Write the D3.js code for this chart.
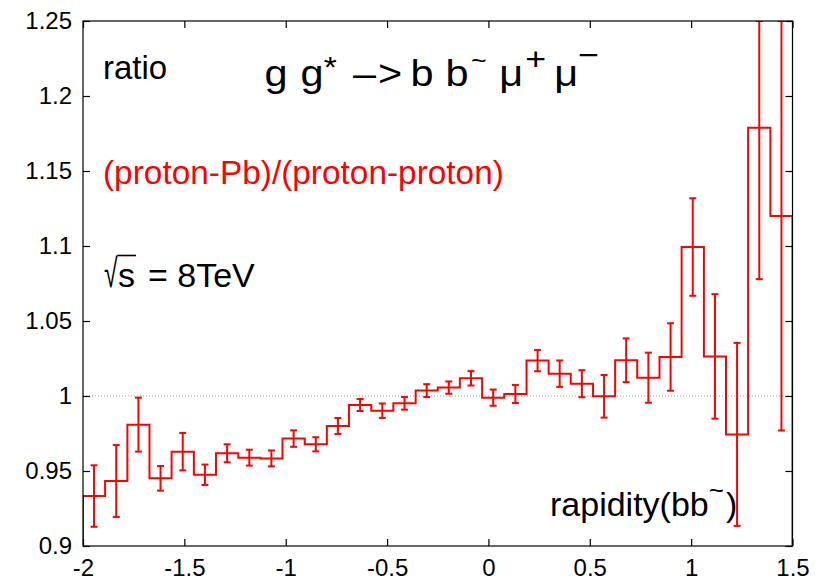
<!DOCTYPE html>
<html>
<head>
<meta charset="utf-8">
<script src="https://cdn.jsdelivr.net/npm/d3@7/dist/d3.min.js"></script>
<style>
  html, body { margin: 0; padding: 0; background: #fff; }
  svg { display: block; font-family: "Liberation Sans", Arial, Helvetica, sans-serif; }
</style>
</head>
<body>
<svg id="chart" width="834" height="581"></svg>
<script>
// Rapidity bin edges of the b b~ pair (32 bins over [-2, 1.5])
const binEdges = [-2, -1.891, -1.781, -1.672, -1.563, -1.453, -1.344, -1.234, -1.125,
  -1.016, -0.906, -0.797, -0.688, -0.578, -0.469, -0.359, -0.25, -0.141, -0.031,
  0.078, 0.188, 0.297, 0.406, 0.516, 0.625, 0.734, 0.844, 0.953, 1.063, 1.172,
  1.281, 1.391, 1.5];

// (proton-Pb)/(proton-proton) ratio per bin
const ratio = [0.9333, 0.9433, 0.9809, 0.9451, 0.9629, 0.9475, 0.9618, 0.9589,
  0.9584, 0.9716, 0.9678, 0.9800, 0.9940, 0.9902, 0.9951, 1.0036, 1.0056, 1.0118,
  0.9989, 1.0013, 1.0236, 1.0149, 1.0082, 0.9998, 1.0238, 1.0122, 1.0260, 1.0993,
  1.0264, 0.9744, 1.1789, 1.1200];

// statistical uncertainty per bin
const ratioErr = [0.0205, 0.0240, 0.0180, 0.0082, 0.0125, 0.0068, 0.0060, 0.0053,
  0.0053, 0.0055, 0.0047, 0.0053, 0.0040, 0.0048, 0.0042, 0.0043, 0.0041, 0.0048,
  0.0054, 0.0060, 0.0071, 0.0088, 0.0090, 0.0142, 0.0146, 0.0167, 0.0225, 0.0325,
  0.0415, 0.0610, 0.1010, 0.1430];

const xTicks = [-2, -1.5, -1, -0.5, 0, 0.5, 1, 1.5];
const xTickLabels = ["-2", "-1.5", "-1", "-0.5", "0", "0.5", "1", "1.5"];
const yTicks = [0.9, 0.95, 1, 1.05, 1.1, 1.15, 1.2, 1.25];
const yTickLabels = ["0.9", "0.95", "1", "1.05", "1.1", "1.15", "1.2", "1.25"];

const width = 834, height = 581;
const margin = { top: 21, right: 41.5, bottom: 35, left: 83 };
const innerW = width - margin.left - margin.right;
const innerH = height - margin.top - margin.bottom;

const x = d3.scaleLinear().domain([-2, 1.5]).range([0, innerW]);
const y = d3.scaleLinear().domain([0.9, 1.25]).range([innerH, 0]);

const svg = d3.select("#chart");
const g = svg.append("g").attr("transform", `translate(${margin.left},${margin.top})`);

svg.append("defs").append("clipPath").attr("id", "plot-clip")
  .append("rect").attr("width", innerW).attr("height", innerH);

// reference line at ratio = 1
g.append("line")
  .attr("x1", 0).attr("x2", innerW)
  .attr("y1", y(1)).attr("y2", y(1))
  .attr("stroke", "#a0a0a0").attr("stroke-width", 1)
  .attr("stroke-dasharray", "1,2");

const red = "#ff0000";
const plot = g.append("g").attr("clip-path", "url(#plot-clip)");

// histogram outline: steps rising from the bottom edge and returning to it
const stepPts = [[binEdges[0], y.domain()[0]]];
ratio.forEach((v, i) => stepPts.push([binEdges[i], v]));
stepPts.push([binEdges[binEdges.length - 1], ratio[ratio.length - 1]]);
stepPts.push([binEdges[binEdges.length - 1], y.domain()[0]]);

plot.append("path")
  .attr("d", d3.line().x(d => x(d[0])).y(d => y(d[1])).curve(d3.curveStepAfter)(stepPts))
  .attr("fill", "none").attr("stroke", red).attr("stroke-width", 2);

// error bars at bin centres, clamped to the plotting range
const [yLo, yHi] = y.domain();
const bars = ratio.map((v, i) => ({
  xc: (binEdges[i] + binEdges[i + 1]) / 2,
  lo: Math.max(yLo, v - ratioErr[i]),
  hi: Math.min(yHi, v + ratioErr[i])
}));
const eb = plot.selectAll("g.err").data(bars).join("g").attr("class", "err")
  .attr("stroke", red).attr("stroke-width", 2);
eb.append("line")
  .attr("x1", d => x(d.xc)).attr("x2", d => x(d.xc))
  .attr("y1", d => y(d.lo)).attr("y2", d => y(d.hi));
eb.append("line")
  .attr("x1", d => x(d.xc) - 3.5).attr("x2", d => x(d.xc) + 3.5)
  .attr("y1", d => y(d.lo)).attr("y2", d => y(d.lo));
eb.append("line")
  .attr("x1", d => x(d.xc) - 3.5).attr("x2", d => x(d.xc) + 3.5)
  .attr("y1", d => y(d.hi)).attr("y2", d => y(d.hi));

// axes with inward ticks on all four sides
const tickFont = 24;
const styleAxis = sel => {
  sel.select(".domain").remove();
  sel.selectAll(".tick line").attr("stroke", "#000").attr("stroke-width", 1.2);
  sel.selectAll(".tick text").attr("fill", "#000").style("font-size", tickFont + "px")
    .style("font-family", '"Liberation Sans", Arial, sans-serif');
};

g.append("g").attr("transform", `translate(0,${innerH})`)
  .call(d3.axisBottom(x).tickValues(xTicks).tickFormat((d, i) => xTickLabels[i])
    .tickSizeInner(-7).tickSizeOuter(0).tickPadding(13))
  .call(styleAxis);
g.append("g")
  .call(d3.axisTop(x).tickValues(xTicks).tickFormat("")
    .tickSizeInner(-7).tickSizeOuter(0))
  .call(styleAxis);
g.append("g")
  .call(d3.axisLeft(y).tickValues(yTicks).tickFormat((d, i) => yTickLabels[i])
    .tickSizeInner(-7).tickSizeOuter(0).tickPadding(11))
  .call(styleAxis);
g.append("g").attr("transform", `translate(${innerW},0)`)
  .call(d3.axisRight(y).tickValues(yTicks).tickFormat("")
    .tickSizeInner(-7).tickSizeOuter(0))
  .call(styleAxis);

// frame
g.append("rect").attr("width", innerW).attr("height", innerH)
  .attr("fill", "none").attr("stroke", "#000").attr("stroke-width", 1.2);

// annotations
const label = (px, py, size, color) => svg.append("text")
  .attr("x", px).attr("y", py)
  .style("font-size", size + "px").attr("fill", color || "#000");

label(103, 79, 33).text("ratio");

// process label: g g* -> b b~ mu+ mu-, set in a slightly widened face
const title = svg.append("text")
  .attr("transform", "translate(266,86) scale(1.12,1)")
  .style("font-size", "37px").attr("fill", "#000");
const piece = (px, py, txt, size) => {
  const t = title.append("tspan").attr("x", px).attr("y", py).text(txt);
  if (size) t.style("font-size", size + "px");
};
piece(-1.3, 0, "g");
piece(30.8, 0, "g");
piece(51.5, -9, "*", 30);
piece(77.7, 0, "\u2013");
piece(100, 0, ">");
piece(129, 0, "b");
piece(160.3, 0, "b");
piece(183, -17, "~", 24);
piece(208.2, 0, "\u03bc");
piece(231.5, -16.5, "+", 32);
piece(257.3, 0, "\u03bc");
piece(278.6, -20, "\u2212", 32);

label(103, 184, 33.4, red).text("(proton-Pb)/(proton-proton)");

// sqrt(s) = 8TeV: a narrow radical sign, an overbar across the s, then the value
const root = svg.append("text")
  .attr("transform", "translate(104,287) scale(0.62,1)")
  .style("font-size", "40px").attr("fill", "#000").text("\u221a");
const sq = label(118, 287, 34);
const sTxt = sq.append("tspan").text("s");
sq.append("tspan").attr("x", 148).text("= 8TeV");
const sW = sTxt.node().getComputedTextLength();
const rb = root.node().getBBox();
svg.append("line")
  .attr("x1", 104 + (rb.x + rb.width) * 0.62 - 1).attr("x2", 118 + sW + 1)
  .attr("y1", 255.5).attr("y2", 255.5)
  .attr("stroke", "#000").attr("stroke-width", 1.6);

const xl = label(550, 516, 34);
xl.append("tspan").text("rapidity(bb");
xl.append("tspan").attr("dy", -17).style("font-size", "26px").text("~");
xl.append("tspan").attr("dy", 17).attr("dx", 2).text(")");
</script>
</body>
</html>
